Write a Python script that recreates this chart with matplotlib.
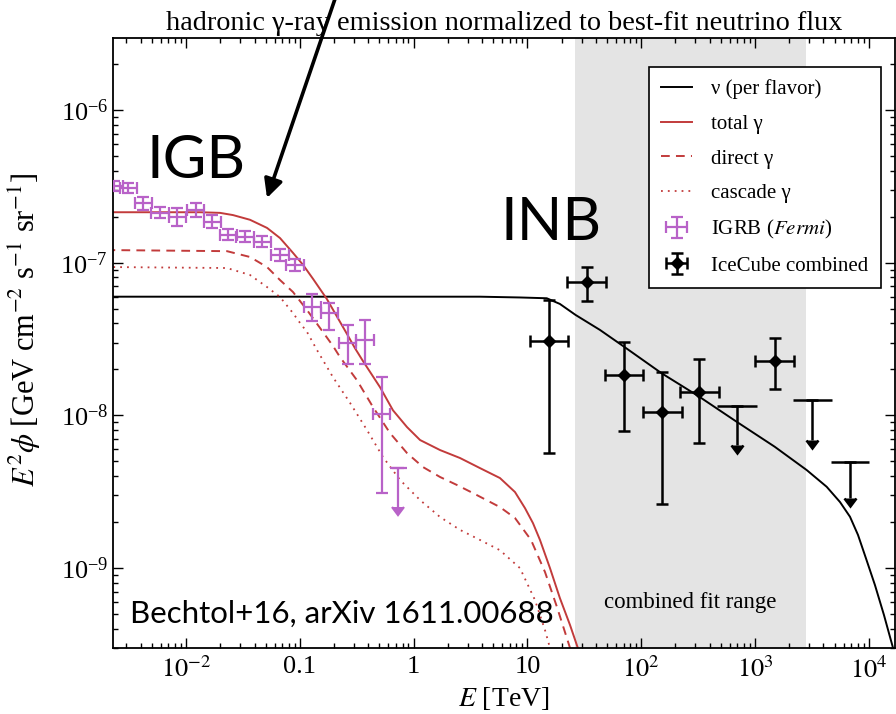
import numpy as np
import matplotlib
matplotlib.use("Agg")
import matplotlib.pyplot as plt
import matplotlib.transforms as mtransforms
from matplotlib.ticker import LogLocator, NullFormatter, FixedLocator, FixedFormatter

plt.rcParams['font.family'] = ['Liberation Serif', 'DejaVu Serif']
plt.rcParams['mathtext.fontset'] = 'stix'

# ---------------- data ----------------
# neutrino (per flavor) model curve
nu_E = [2.0e-3, 3.83, 8.61, 14.8, 19.3, 26.5, 43.4, 70.6, 151, 322, 690, 1489,
        2845, 4266, 5585, 6839, 8040, 9444, 11330, 13600, 16340]
nu_F = [5.99e-8, 5.99e-8, 5.92e-8, 5.85e-8, 5.37e-8, 4.55e-8, 3.63e-8, 2.82e-8,
        1.89e-8, 1.33e-8, 9.09e-9, 6.24e-9, 4.39e-9, 3.41e-9, 2.71e-9, 2.17e-9,
        1.65e-9, 1.16e-9, 7.75e-10, 4.93e-10, 3.0e-10]

# total gamma
tot_E = [2.0e-3, 1.33e-2, 1.99e-2, 2.59e-2, 3.65e-2, 5.15e-2, 6.70e-2, 8.71e-2, 0.107,
         0.131, 0.173, 0.226, 0.260, 0.305, 0.359, 0.507, 0.659, 0.875, 1.14, 1.71,
         2.56, 3.83, 5.74, 7.78, 9.53, 11.2, 12.9, 15.8, 19.3, 23.7, 27.8]
tot_F = [2.14e-7, 2.14e-7, 2.12e-7, 2.05e-7, 1.91e-7, 1.69e-7, 1.45e-7, 1.16e-7, 9.66e-8,
         7.82e-8, 5.78e-8, 4.09e-8, 3.41e-8, 2.76e-8, 2.27e-8, 1.53e-8, 1.08e-8, 8.39e-9,
         6.90e-9, 5.93e-9, 5.26e-9, 4.52e-9, 3.89e-9, 3.15e-9, 2.47e-9, 1.97e-9, 1.53e-9,
         1.00e-9, 6.37e-10, 4.24e-10, 2.99e-10]

# direct gamma
dir_E = [2.0e-3, 2.29e-2, 3.65e-2, 5.15e-2, 6.70e-2, 8.71e-2, 0.1157, 0.1505, 0.1957,
         0.2256, 0.318, 0.4396, 0.620, 0.875, 1.21, 1.71, 2.41, 3.33, 5.74, 7.78, 10.76,
         14.28, 18.2, 23.7]
dir_F = [1.21e-7, 1.19e-7, 1.09e-7, 9.37e-8, 7.70e-8, 6.43e-8, 4.90e-8, 3.74e-8, 2.85e-8,
         2.41e-8, 1.70e-8, 1.135e-8, 7.67e-9, 5.67e-9, 4.59e-9, 3.95e-9, 3.50e-9, 3.10e-9,
         2.51e-9, 2.13e-9, 1.53e-9, 9.43e-10, 5.56e-10, 3.0e-10]

# cascade gamma
cas_E = [2.0e-3, 2.29e-2, 3.65e-2, 5.15e-2, 6.70e-2, 8.71e-2, 0.1005, 0.1157, 0.1416,
         0.1957, 0.276, 0.3895, 0.538, 0.760, 1.14, 1.71, 2.56, 3.83, 5.74, 8.61, 11.66,
         14.28, 15.8]
cas_F = [9.37e-8, 9.23e-8, 8.31e-8, 6.93e-8, 5.96e-8, 4.68e-8, 4.03e-8, 3.52e-8, 2.68e-8,
         1.78e-8, 1.21e-8, 8.02e-9, 5.34e-9, 3.78e-9, 2.79e-9, 2.16e-9, 1.78e-9, 1.53e-9,
         1.31e-9, 1.00e-9, 6.18e-10, 3.93e-10, 3.0e-10]

# IGRB (Fermi)
igrb_E = [2.33e-3, 3.11e-3, 4.22e-3, 5.91e-3, 8.39e-3, 1.22e-2, 1.70e-2, 2.35e-2, 3.3e-2,
          4.68e-2, 6.7e-2, 9.08e-2, 0.129, 0.182, 0.264, 0.374, 0.525]
igrb_F = [3.18e-7, 3.07e-7, 2.45e-7, 2.13e-7, 2.0e-7, 2.21e-7, 1.86e-7, 1.52e-7, 1.48e-7,
          1.37e-7, 1.12e-7, 9.66e-8, 5.15e-8, 4.67e-8, 2.99e-8, 3.12e-8, 1.02e-8]
igrb_F_hi = [3.43e-7, 3.31e-7, 2.71e-7, 2.31e-7, 2.28e-7, 2.46e-7, 2.05e-7, 1.65e-7, 1.61e-7,
             1.49e-7, 1.23e-7, 1.05e-7, 6.24e-8, 5.45e-8, 3.91e-8, 4.21e-8, 1.79e-8]
igrb_F_lo = [2.95e-7, 2.85e-7, 2.22e-7, 1.96e-7, 1.75e-7, 1.99e-7, 1.69e-7, 1.40e-7, 1.36e-7,
             1.26e-7, 1.02e-7, 8.85e-8, 4.17e-8, 3.62e-8, 2.16e-8, 2.16e-8, 3.09e-9]
igrb_bin_halfwidth_dex = 0.075
igrb_ul_E = [0.734]
igrb_ul_F = [4.5e-9]
igrb_ul_end = [2.5e-9]

# IceCube combined
ic_E = [15.5, 33.2, 70.6, 151, 322, 1490]
ic_E_lo = [10.5, 22.3, 48, 103, 219, 1000]
ic_E_hi = [22.8, 49, 104, 227, 483, 2200]
ic_F = [3.08e-8, 7.45e-8, 1.84e-8, 1.05e-8, 1.42e-8, 2.27e-8]
ic_F_hi = [5.7e-8, 9.4e-8, 3.04e-8, 1.93e-8, 2.33e-8, 3.21e-8]
ic_F_lo = [5.7e-9, 5.6e-8, 7.9e-9, 2.65e-9, 6.6e-9, 1.49e-8]
ic_ul_E = [690, 3190, 6840]
ic_ul_E_lo = [465, 2180, 4660]
ic_ul_E_hi = [1042, 4720, 1.0e4]
ic_ul_F = [1.16e-8, 1.26e-8, 4.98e-9]
ic_ul_end = [6.4e-9, 6.9e-9, 2.88e-9]

fit_range = [26, 2800]

xtick_vals = [1e-2, 0.1, 1, 10, 1e2, 1e3, 1e4]
xtick_labels = [r'$10^{-2}$', '0.1', '1', '10', r'$10^{2}$', r'$10^{3}$', r'$10^{4}$']

# ---------------- figure ----------------
W, H = 896, 714
fig = plt.figure(figsize=(W / 100, H / 100), dpi=100)
ax = fig.add_axes([113 / W, 1 - 648 / H, (895 - 113) / W, (648 - 38) / H])
ax.set_xscale('log')
ax.set_yscale('log')
ax.set_xlim(2.283e-3, 1.70e4)
ax.set_ylim(3.0e-10, 2.96e-6)

red = '#c23b3b'
purple = '#b862c8'

ax.axvspan(fit_range[0], fit_range[1], color='#e4e4e4', zorder=0, lw=0)

l_nu, = ax.plot(nu_E, nu_F, color='black', lw=1.4, label='ν (per flavor)')
l_tot, = ax.plot(tot_E, tot_F, color=red, lw=1.4, label='total γ')
l_dir, = ax.plot(dir_E, dir_F, color=red, lw=1.4, ls=(0, (4.5, 3.2)), label='direct γ')
l_cas, = ax.plot(cas_E, cas_F, color=red, lw=1.3, ls=(0, (1, 2.8)), label='cascade γ')

igrb_E_a = np.array(igrb_E)
igrb_F_a = np.array(igrb_F)
fac = 10 ** igrb_bin_halfwidth_dex
igrb_xerr = [igrb_E_a - igrb_E_a / fac, igrb_E_a * fac - igrb_E_a]
igrb_yerr = [igrb_F_a - np.array(igrb_F_lo), np.array(igrb_F_hi) - igrb_F_a]
h_igrb = ax.errorbar(igrb_E, igrb_F, xerr=igrb_xerr, yerr=igrb_yerr, fmt='none',
                     ecolor=purple, color=purple, elinewidth=1.6, capsize=4, capthick=1.6,
                     label=r'IGRB ($\it{Fermi}$)', zorder=4)
ul_E_a = np.array(igrb_ul_E)
ax.errorbar(igrb_ul_E, igrb_ul_F, xerr=[ul_E_a - ul_E_a / fac, ul_E_a * fac - ul_E_a],
            fmt='none', ecolor=purple, color=purple, elinewidth=1.6, capsize=0, zorder=4)
ax.errorbar(igrb_ul_E, igrb_ul_F,
            yerr=[np.array(igrb_ul_F) - np.array(igrb_ul_end), np.zeros(1)],
            uplims=True, fmt='none', ecolor=purple, color=purple, elinewidth=1.6,
            capsize=4, capthick=1.6, zorder=4)

ic_E_a = np.array(ic_E)
ic_F_a = np.array(ic_F)
h_ic = ax.errorbar(ic_E, ic_F,
                   xerr=[ic_E_a - np.array(ic_E_lo), np.array(ic_E_hi) - ic_E_a],
                   yerr=[ic_F_a - np.array(ic_F_lo), np.array(ic_F_hi) - ic_F_a],
                   fmt='D', color='black', ms=6, elinewidth=1.8, capsize=4, capthick=1.8,
                   label='IceCube combined', zorder=5)
icu_E = np.array(ic_ul_E)
icu_F = np.array(ic_ul_F)
ax.errorbar(ic_ul_E, ic_ul_F, xerr=[icu_E - np.array(ic_ul_E_lo), np.array(ic_ul_E_hi) - icu_E],
            fmt='none', ecolor='black', color='black', elinewidth=1.8, capsize=0, zorder=5)
ax.errorbar(ic_ul_E, ic_ul_F, yerr=[icu_F - np.array(ic_ul_end), np.zeros(3)],
            uplims=True, fmt='none', ecolor='black', color='black', elinewidth=1.8,
            capsize=4, capthick=1.8, zorder=5)

# axes styling
ax.xaxis.set_major_locator(FixedLocator(xtick_vals))
ax.xaxis.set_major_formatter(FixedFormatter(xtick_labels))
ax.xaxis.set_minor_locator(LogLocator(base=10, subs=np.arange(2, 10), numticks=30))
ax.xaxis.set_minor_formatter(NullFormatter())
ax.yaxis.set_major_locator(LogLocator(base=10, numticks=20))
ax.yaxis.set_minor_locator(LogLocator(base=10, subs=np.arange(2, 10), numticks=30))
ax.yaxis.set_minor_formatter(NullFormatter())
ax.tick_params(which='both', direction='in', top=True, right=True, labelsize=19, width=1.0)
ax.tick_params(which='major', length=7)
ax.tick_params(which='minor', length=3.5)
ax.tick_params(axis='x', pad=6)
for s in ax.spines.values():
    s.set_linewidth(1.3)

ax.set_xlabel(r'$E$ [TeV]', fontsize=20, labelpad=2)
ax.set_ylabel(r'$E^2\phi$ [GeV cm$^{-2}$ s$^{-1}$ sr$^{-1}$]', fontsize=22)
ax.yaxis.set_label_coords(-0.0895, 0.522)
ax.set_title('hadronic γ-ray emission normalized to best-fit neutrino flux',
             fontsize=20.3, pad=6)

leg = ax.legend(handles=[l_nu, l_tot, l_dir, l_cas, h_igrb, h_ic], loc='upper right',
                bbox_to_anchor=(0.982, 0.9525), fontsize=15, frameon=True, fancybox=False,
                edgecolor='black', framealpha=1, handlelength=1.5, labelspacing=0.72,
                borderpad=0.6, handletextpad=0.9, borderaxespad=0)
leg.get_frame().set_linewidth(1.2)

# annotations
trans = mtransforms.blended_transform_factory(ax.transData, ax.transAxes)
ax.text(268, 0.074, 'combined fit range', transform=trans, ha='center', va='center',
        fontsize=16.5)
ax.text(0.043, 0.7705, 'IGB', transform=ax.transAxes, fontsize=43, family='Lato',
        va='baseline', ha='left')
ax.text(0.495, 0.669, 'INB', transform=ax.transAxes, fontsize=43, family='Lato',
        va='baseline', ha='left')
ax.text(0.0217, 0.041, 'Bechtol+16, arXiv 1611.00688', transform=ax.transAxes,
        fontsize=22.5, family='Lato', va='baseline', ha='left')
ax.annotate('', xy=(267 / W, 1 - 198 / H), xycoords='figure fraction',
            xytext=(336 / W, 1 + 4 / H), textcoords='figure fraction',
            arrowprops=dict(arrowstyle='-|>', lw=2.6, color='black', mutation_scale=28,
                            shrinkA=0, shrinkB=0),
            annotation_clip=False)

fig.savefig('out.png', dpi=100)
